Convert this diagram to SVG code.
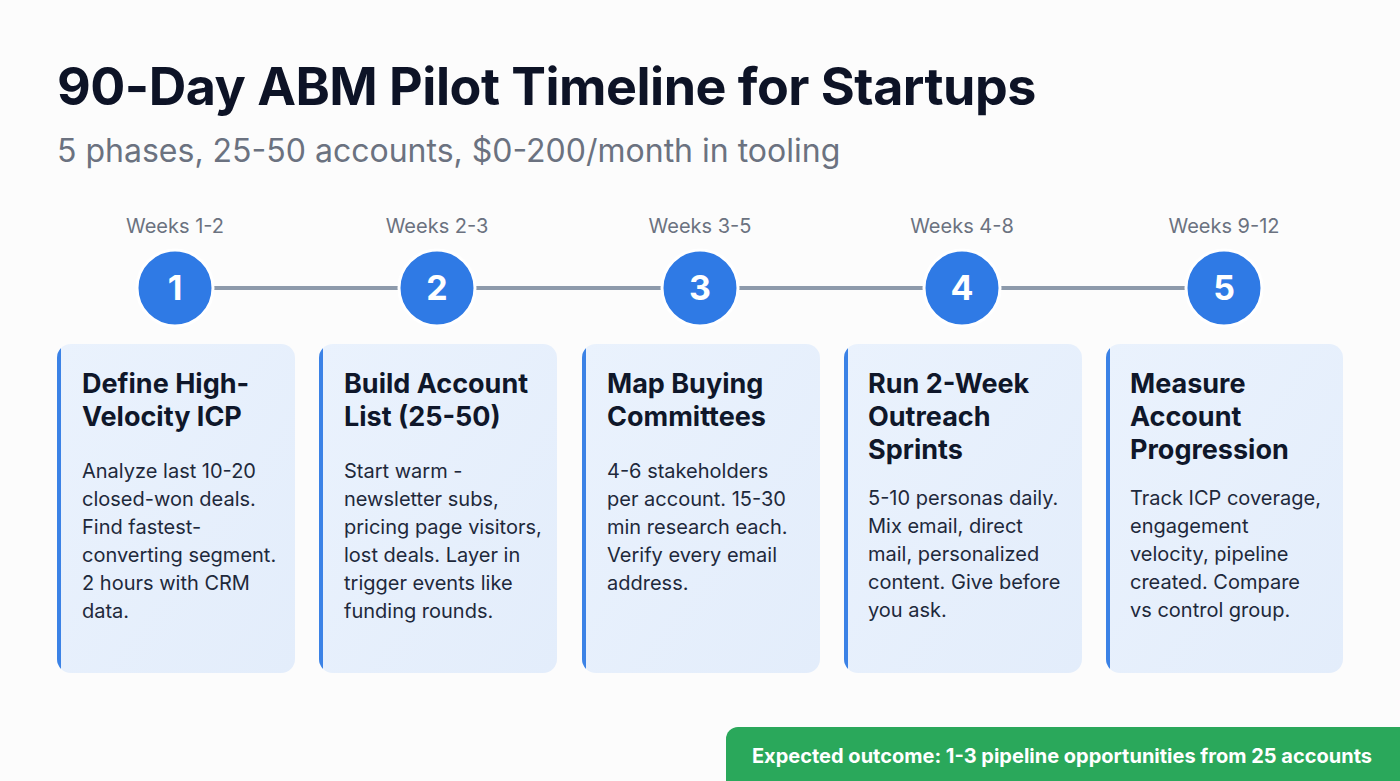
<svg xmlns="http://www.w3.org/2000/svg" width="1400" height="781" viewBox="0 0 1400 781">
<defs>
<linearGradient id="cardg" x1="0" y1="0" x2="1" y2="1">
<stop offset="0" stop-color="#eaf2fd"/>
<stop offset="1" stop-color="#e3edfb"/>
</linearGradient>
<clipPath id="c1"><rect x="57" y="344" width="238" height="329" rx="14"/></clipPath>
<clipPath id="c2"><rect x="319" y="344" width="238" height="329" rx="14"/></clipPath>
<clipPath id="c3"><rect x="582" y="344" width="238" height="329" rx="14"/></clipPath>
<clipPath id="c4"><rect x="844" y="344" width="238" height="329" rx="14"/></clipPath>
<clipPath id="c5"><rect x="1106" y="344" width="237" height="329" rx="14"/></clipPath>
</defs>
<style>
text { font-family: Inter, "Liberation Sans", sans-serif; }
.title { font-size: 52px; font-weight: 700; fill: #0d1326; letter-spacing: -0.5px; }
.sub { font-size: 32px; fill: #6b7280; }
.wk { font-size: 20px; fill: #6b7280; text-anchor: middle; }
.num { font-size: 34px; font-weight: 700; fill: #ffffff; text-anchor: middle; }
.circ { fill: #2f7ae5; stroke: #ffffff; stroke-width: 3; }
.card { fill: url(#cardg); }
.bar { fill: #3b82e6; }
.ct { font-size: 27px; font-weight: 700; fill: #0f172a; }
.cb { font-size: 20px; fill: #1e293b; }
.line { stroke: #8d9aab; stroke-width: 4; }
.out { font-size: 20px; font-weight: 700; fill: #ffffff; text-anchor: middle; }
</style>
<rect width="1400" height="781" fill="#fcfcfc"/>
<text class="title" x="57" y="105">90-Day ABM Pilot Timeline for Startups</text>
<text class="sub" x="57" y="162">5 phases, 25-50 accounts, $0-200/month in tooling</text>
<g id="connectors">
<line class="line" x1="175" y1="288" x2="1224" y2="288"/>
</g>
<g id="phase1">
<text class="wk" x="175" y="233">Weeks 1-2</text>
<circle class="circ" cx="175" cy="288" r="38"/>
<text class="num" x="175" y="300">1</text>
<rect class="card" x="57" y="344" width="238" height="329" rx="14"/>
<rect class="bar" x="57" y="344" width="4" height="329" clip-path="url(#c1)"/>
<text class="ct" x="82" y="393">Define High-</text>
<text class="ct" x="82" y="426">Velocity ICP</text>
<text class="cb" x="82" y="478">Analyze last 10-20</text>
<text class="cb" x="82" y="506">closed-won deals.</text>
<text class="cb" x="82" y="534">Find fastest-</text>
<text class="cb" x="82" y="562">converting segment.</text>
<text class="cb" x="82" y="590">2 hours with CRM</text>
<text class="cb" x="82" y="618">data.</text>
</g>
<g id="phase2">
<text class="wk" x="437" y="233">Weeks 2-3</text>
<circle class="circ" cx="437" cy="288" r="38"/>
<text class="num" x="437" y="300">2</text>
<rect class="card" x="319" y="344" width="238" height="329" rx="14"/>
<rect class="bar" x="319" y="344" width="4" height="329" clip-path="url(#c2)"/>
<text class="ct" x="344" y="393">Build Account</text>
<text class="ct" x="344" y="426">List (25-50)</text>
<text class="cb" x="344" y="478">Start warm -</text>
<text class="cb" x="344" y="506">newsletter subs,</text>
<text class="cb" x="344" y="534">pricing page visitors,</text>
<text class="cb" x="344" y="562">lost deals. Layer in</text>
<text class="cb" x="344" y="590">trigger events like</text>
<text class="cb" x="344" y="618">funding rounds.</text>
</g>
<g id="phase3">
<text class="wk" x="700" y="233">Weeks 3-5</text>
<circle class="circ" cx="700" cy="288" r="38"/>
<text class="num" x="700" y="300">3</text>
<rect class="card" x="582" y="344" width="238" height="329" rx="14"/>
<rect class="bar" x="582" y="344" width="4" height="329" clip-path="url(#c3)"/>
<text class="ct" x="607" y="393">Map Buying</text>
<text class="ct" x="607" y="426">Committees</text>
<text class="cb" x="607" y="478">4-6 stakeholders</text>
<text class="cb" x="607" y="506">per account. 15-30</text>
<text class="cb" x="607" y="534">min research each.</text>
<text class="cb" x="607" y="562">Verify every email</text>
<text class="cb" x="607" y="590">address.</text>
</g>
<g id="phase4">
<text class="wk" x="962" y="233">Weeks 4-8</text>
<circle class="circ" cx="962" cy="288" r="38"/>
<text class="num" x="962" y="300">4</text>
<rect class="card" x="844" y="344" width="238" height="329" rx="14"/>
<rect class="bar" x="844" y="344" width="4" height="329" clip-path="url(#c4)"/>
<text class="ct" x="868" y="393">Run 2-Week</text>
<text class="ct" x="868" y="426">Outreach</text>
<text class="ct" x="868" y="459">Sprints</text>
<text class="cb" x="868" y="505">5-10 personas daily.</text>
<text class="cb" x="868" y="533">Mix email, direct</text>
<text class="cb" x="868" y="561">mail, personalized</text>
<text class="cb" x="868" y="589">content. Give before</text>
<text class="cb" x="868" y="617">you ask.</text>
</g>
<g id="phase5">
<text class="wk" x="1224" y="233">Weeks 9-12</text>
<circle class="circ" cx="1224" cy="288" r="38"/>
<text class="num" x="1224" y="300">5</text>
<rect class="card" x="1106" y="344" width="237" height="329" rx="14"/>
<rect class="bar" x="1106" y="344" width="4" height="329" clip-path="url(#c5)"/>
<text class="ct" x="1130" y="393">Measure</text>
<text class="ct" x="1130" y="426">Account</text>
<text class="ct" x="1130" y="459">Progression</text>
<text class="cb" x="1130" y="505">Track ICP coverage,</text>
<text class="cb" x="1130" y="533">engagement</text>
<text class="cb" x="1130" y="561">velocity, pipeline</text>
<text class="cb" x="1130" y="589">created. Compare</text>
<text class="cb" x="1130" y="617">vs control group.</text>
</g>
<g id="outcome">
<rect x="726" y="727" width="700" height="70" rx="12" fill="#2aa85b"/>
<text class="out" x="1062" y="763">Expected outcome: 1-3 pipeline opportunities from 25 accounts</text>
</g>
</svg>
